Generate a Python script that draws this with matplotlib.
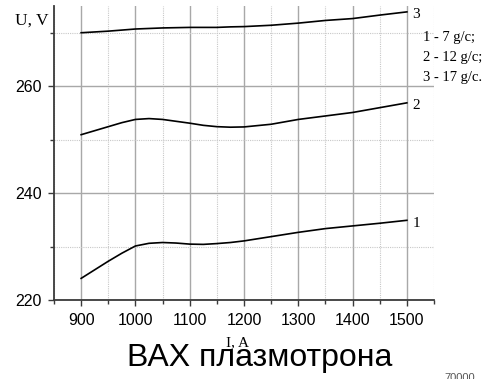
import matplotlib
matplotlib.use("Agg")
import matplotlib.pyplot as plt
from matplotlib.ticker import MultipleLocator

# Current, A
current = [900, 925, 950, 975, 1000, 1025, 1050, 1075, 1100, 1125, 1150, 1175, 1200,
           1250, 1300, 1350, 1400, 1450, 1500]

# Arc voltage, V, for three gas flow rates
voltage_1 = [224.1, 225.7, 227.3, 228.8, 230.15, 230.65, 230.8, 230.7, 230.5, 230.45, 230.6,
             230.8, 231.1, 231.9, 232.7, 233.4, 233.9, 234.4, 234.95]
voltage_2 = [250.95, 251.7, 252.45, 253.2, 253.8, 253.96, 253.8, 253.45, 253.1, 252.7, 252.45,
             252.35, 252.4, 252.9, 253.8, 254.45, 255.1, 256.0, 256.9]
voltage_3 = [270.0, 270.15, 270.3, 270.5, 270.7, 270.8, 270.9, 270.95, 271.0, 271.0, 271.0,
             271.1, 271.15, 271.4, 271.8, 272.3, 272.65, 273.3, 273.9]

curve_ids = ["1", "2", "3"]
legend_lines = ["1 - 7 g/c;", "2 - 12 g/c;", "3 - 17 g/c."]

x_ticks = [900, 1000, 1100, 1200, 1300, 1400, 1500]
y_ticks = [220, 240, 260]

SERIF = "Liberation Serif"
SANS = "Liberation Sans"

fig = plt.figure(figsize=(4.9, 3.79), dpi=100)
ax = fig.add_axes([54 / 490, 1 - 300.3 / 379, (434 - 54) / 490, (300.3 - 6) / 379])

ax.set_xlim(850, 1550)
ax.set_ylim(220, 275)

ax.xaxis.set_major_locator(MultipleLocator(100))
ax.xaxis.set_minor_locator(MultipleLocator(50))
ax.yaxis.set_major_locator(MultipleLocator(20))
ax.yaxis.set_minor_locator(MultipleLocator(10))
ax.set_xticks(x_ticks)
ax.set_yticks(y_ticks)

ax.grid(which="major", color="#a8a8a8", linewidth=1.0, linestyle="-")
ax.grid(which="minor", color="#c8c8c8", linewidth=0.8, linestyle=(0, (1, 1)))
ax.set_axisbelow(True)

for side in ("top", "right"):
    ax.spines[side].set_visible(False)
for side in ("left", "bottom"):
    ax.spines[side].set_color("#3a3a3a")
    ax.spines[side].set_linewidth(1.3)

ax.tick_params(which="major", direction="out", length=4, width=1, color="#3a3a3a",
               labelsize=11.5, pad=5)
ax.tick_params(which="minor", direction="out", length=3, width=1, color="#3a3a3a")
for lab in ax.get_xticklabels() + ax.get_yticklabels():
    lab.set_fontfamily(SANS)

series = [voltage_1, voltage_2, voltage_3]
for cid, vals in zip(curve_ids, series):
    ax.plot(current, vals, color="black", linewidth=1.2, zorder=3,
            solid_joinstyle="round")
    ax.annotate(cid, xy=(current[-1], vals[-1]), xytext=(4, -2), textcoords="offset points",
                ha="left", va="center", fontsize=11, family=SERIF, annotation_clip=False)

# axis captions
fig.text(15 / 490, 1 - 21 / 379, "U, V", family=SERIF, fontsize=12.5, ha="left", va="center")
fig.text(237 / 490, 1 - 343 / 379, "I, A", family=SERIF, fontsize=11, ha="center", va="center")

# flow-rate key
for i, line in enumerate(legend_lines):
    fig.text(423 / 490, 1 - (38 + 20 * i) / 379, line, family=SERIF, fontsize=10.5,
             ha="left", va="center")

fig.text(260 / 490, 1 - 358 / 379, "ВАХ плазмотрона", family=SANS, fontsize=23,
         ha="center", va="center")
fig.text(444 / 490, 1 - 373 / 379, "70000", family=SANS, fontsize=8, color="#555555",
         ha="left", va="top")

fig.savefig("out.png", dpi=100)
